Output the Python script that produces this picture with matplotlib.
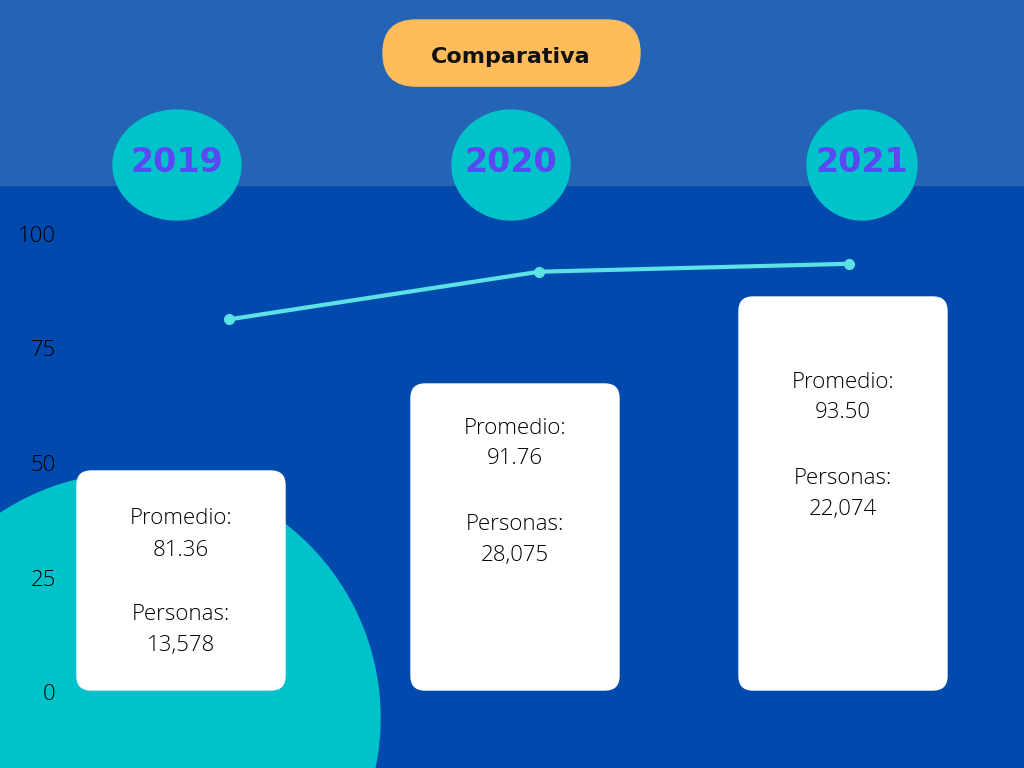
import matplotlib
matplotlib.use('Agg')
import matplotlib.pyplot as plt
from matplotlib.patches import Rectangle, Ellipse, Circle, FancyBboxPatch

#data
years = ['2019', '2020', '2021']
promedio = [81.36, 91.76, 93.50]
personas = [13578, 28075, 22074]
yticks = [0, 25, 50, 75, 100]
title = 'Comparativa'

#colors
c_top = '#2563b5'
c_bg = '#004aad'
c_teal = '#00c2cb'
c_line = '#5ce1e6'
c_orange = '#ffbc5a'
c_year = '#5b48f5'
c_text = '#000000'

W, H = 1024, 768
fig = plt.figure(figsize=(W/100, H/100), dpi=100)
fig.patch.set_facecolor(c_bg)

#background layer in pixel coords
bg = fig.add_axes([0, 0, 1, 1])
bg.set_xlim(0, W)
bg.set_ylim(H, 0)
bg.axis('off')
bg.add_patch(Rectangle((0, 0), W, 185, color=c_top, zorder=1))
bg.add_patch(Circle((135, 718), 245, color=c_teal, zorder=2))

#title pill
bg.add_patch(FancyBboxPatch((383+33, 20+33), 257-66, 0.1, boxstyle='round,pad=33',
                            color=c_orange, zorder=3, mutation_aspect=1))
bg.text(511, 57, title, ha='center', va='center', fontsize=16, fontweight='bold',
        family='DejaVu Sans', color='#111111', zorder=4)

#year circles
circ = [(177, 128), (511, 118), (862, 110)]
for (cx, w), yr in zip(circ, years):
    bg.add_patch(Ellipse((cx, 165), w, 110, color=c_teal, zorder=3))
    bg.text(cx, 162, yr, ha='center', va='center', fontsize=24, fontweight='bold',
            family='DejaVu Sans', color=c_year, zorder=4)

#info boxes
boxes = [(77, 471, 48), (411, 384, 44), (739, 297, 85)]
for (bx, by, off), p, n in zip(boxes, promedio, personas):
    bg.add_patch(FancyBboxPatch((bx+14, by+14), 208-28, 690-by-28,
                                boxstyle='round,pad=14', color='white', zorder=5))
    cx = bx + 104
    y0 = by + off
    kw = dict(ha='center', va='center', fontsize=16, family='Open Sans',
              fontweight='light', color=c_text, zorder=6)
    bg.text(cx, y0, 'Promedio:', **kw)
    bg.text(cx, y0+31, '%.2f' % p, **kw)
    bg.text(cx, y0+96, 'Personas:', **kw)
    bg.text(cx, y0+127, '{:,}'.format(n), **kw)

#data axes: value 0 at y=692px, 100 at y=234px; categories at 229+310*i px
left = 60
ax = fig.add_axes([left/W, 0, 1-left/W, 1])
ax.patch.set_alpha(0)
ppu = (692-234)/100.0
ax.set_ylim(-(H-692)/ppu, 692/ppu)
ax.set_xlim((left-229)/310.0, (W-229)/310.0)
ax.plot(range(len(years)), promedio, color=c_line, lw=3, marker='o', ms=7,
        solid_capstyle='round', zorder=7)
ax.set_yticks(yticks)
ax.set_yticklabels([str(t) for t in yticks], family='Open Sans', fontsize=16,
                   fontweight='light', color='#000000')
ax.tick_params(axis='y', length=0, pad=3)
ax.set_xticks([])
for s in ax.spines.values():
    s.set_visible(False)

fig.savefig('out.png', dpi=100, facecolor=fig.get_facecolor())
